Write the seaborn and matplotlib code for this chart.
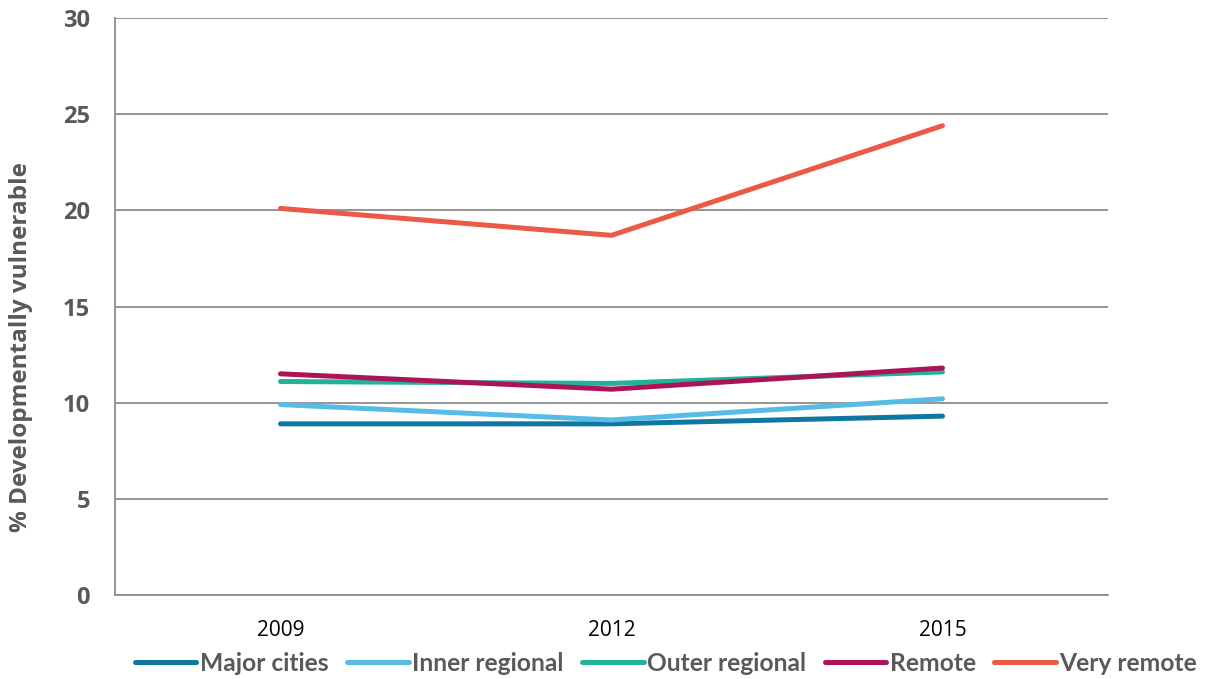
import matplotlib
matplotlib.use("Agg")
import matplotlib.pyplot as plt
import seaborn as sns
import pandas as pd

years = ["2009", "2012", "2015"]
regions = ["Major cities", "Inner regional", "Outer regional", "Remote", "Very remote"]
major_cities = [8.9, 8.9, 9.3]
inner_regional = [9.9, 9.1, 10.2]
outer_regional = [11.1, 11.0, 11.6]
remote = [11.5, 10.7, 11.8]
very_remote = [20.1, 18.7, 24.4]
colors = ["#0E77A0", "#56BCE6", "#22B29A", "#AD1458", "#EB5A46"]

series = [major_cities, inner_regional, outer_regional, remote, very_remote]
rows = []
for name, vals in zip(regions, series):
    for yr, v in zip(years, vals):
        rows.append({"Year": yr, "Region": name, "Value": v})
df = pd.DataFrame(rows)

sns.set_style("white")
plt.rcParams["font.family"] = ["Open Sans", "DejaVu Sans"]

fig = plt.figure(figsize=(12.05, 6.79), dpi=100)
ax = fig.add_axes([115 / 1205, 1 - 595 / 679, 993 / 1205, 577 / 679])

sns.lineplot(data=df, x="Year", y="Value", hue="Region", hue_order=regions,
             palette=colors, linewidth=3.6, ax=ax, sort=False)

ax.set_xlim(-0.5, 2.5)
ax.set_ylim(0, 30)
ax.set_yticks(range(0, 31, 5))
ax.yaxis.grid(True, color="#8C8C8C", linewidth=1.3)
ax.set_axisbelow(True)
for s in ["top", "right"]:
    ax.spines[s].set_visible(False)
for s in ["left", "bottom"]:
    ax.spines[s].set_color("#8C8C8C")
    ax.spines[s].set_linewidth(1.3)
ax.tick_params(axis="y", length=0, pad=18, labelsize=17, labelcolor="#595959")
ax.tick_params(axis="x", length=0, pad=18, labelsize=15, labelcolor="#000000")
for t in ax.get_yticklabels():
    t.set_fontweight("bold")
ax.set_xlabel("")
ax.set_ylabel("% Developmentally vulnerable", fontsize=17.5, fontweight="bold",
              color="#595959")
ax.yaxis.set_label_coords(-0.083, 0.43)

ax.legend(loc="center", bbox_to_anchor=(0.555, -0.118), ncol=5,
          frameon=False, handlelength=2.5, handletextpad=0.15, columnspacing=0.75,
          prop={"weight": "bold", "size": 17.7, "family": "Lato"})
for t in ax.get_legend().get_texts():
    t.set_color("#595959")

fig.savefig("out.png", dpi=100)
